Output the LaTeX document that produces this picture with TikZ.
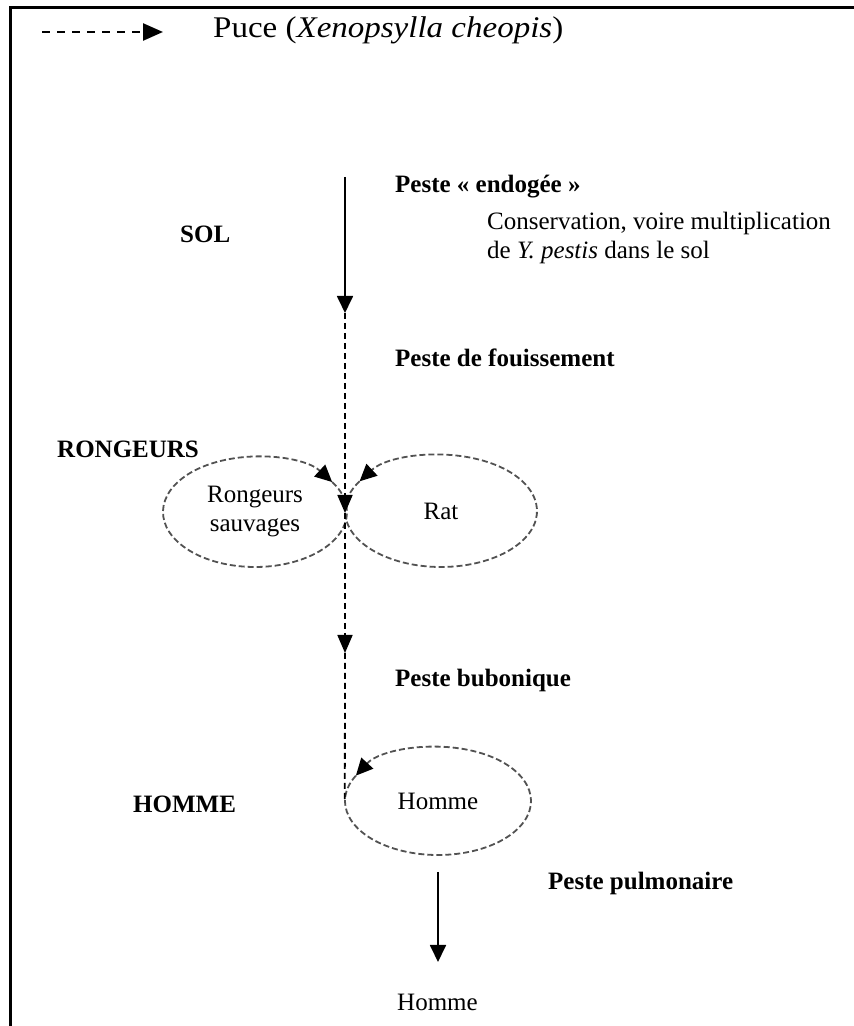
\documentclass[tikz,border=0pt]{standalone}
\usepackage{fontspec}
\setmainfont{Liberation Serif}
\newfontfamily\titlefont[FakeStretch=1.1]{Liberation Serif}
\usetikzlibrary{arrows.meta,shapes.geometric}
\tikzset{
  frameline/.style={line width=3pt},
  solidarrow/.style={line width=1.8pt, -{Triangle[length=17pt,width=16pt]}},
  dasharrow/.style={line width=1.8pt, dash pattern=on 6pt off 4pt, -{Triangle[length=18pt,width=15pt]}},
  dashline/.style={line width=1.8pt, dash pattern=on 6pt off 4pt},
  legendarrow/.style={line width=2.5pt, dash pattern=on 8pt off 7pt, -{Triangle[length=20pt,width=17pt]}},
  cyclearc/.style={line width=1.8pt, draw=black!68, dash pattern=on 6pt off 3pt, -{Triangle[length=17pt,width=16pt,color=black]}},
  host/.style={shape=ellipse, inner sep=0pt, font=\fontsize{25}{29}\selectfont, align=center},
  lab/.style={anchor=base west, inner sep=0pt, font=\fontsize{25}{29}\selectfont\bfseries},
  txt/.style={anchor=base west, inner sep=0pt, font=\fontsize{25}{29}\selectfont},
}
\begin{document}
\begin{tikzpicture}[x=1pt,y=1pt]
\useasboundingbox (0,0) rectangle (854,1026);
% frame
\draw[frameline] (10.5,0) -- (10.5,1018) -- (854,1018);
% legend
\coordinate (l0) at (42,994);
\coordinate (l1) at (163,994);
\draw[legendarrow] (l0) -- (l1);
\node[anchor=base west, inner sep=0pt, font=\titlefont\fontsize{30}{34}\selectfont] (title) at (213,988) {Puce (\textit{Xenopsylla cheopis})};
% labels
\node[lab] (sol) at (180,783) {SOL};
\node[lab] (endo) at (395,833) {Peste « endogée »};
\node[txt] (cons1) at (487,796) {Conservation, voire multiplication};
\node[txt] (cons2) at (487,767) {de \textit{Y. pestis} dans le sol};
\node[lab] (fouis) at (395,659) {Peste de fouissement};
\node[lab] (rong) at (57,568) {RONGEURS};
\node[lab] (bubo) at (395,339) {Peste bubonique};
\node[lab] (hom) at (133,213) {HOMME};
\node[lab] (pulmo) at (548,136) {Peste pulmonaire};
% host ellipses
\node[host, minimum width=184pt, minimum height=110pt] (rs) at (255,514) {Rongeurs\\sauvages};
\node[host, minimum width=192pt, minimum height=112pt] (rat) at (441,515) {Rat};
\node[host, minimum width=186pt, minimum height=108pt] (hm) at (438,225) {Homme};
\node[anchor=base west, inner sep=0pt, font=\fontsize{25}{29}\selectfont] (hb) at (397,16) {Homme};
% cycle arcs
\draw[cyclearc] (rs.center) ++(33:92pt and 55pt) arc[start angle=33, end angle=-327, x radius=92pt, y radius=55pt];
\draw[cyclearc] (rat.center) ++(148:96pt and 56pt) arc[start angle=148, end angle=508, x radius=96pt, y radius=56pt];
\draw[cyclearc] (hm.center) ++(152:93pt and 54pt) arc[start angle=152, end angle=512, x radius=93pt, y radius=54pt];
% main flow
\coordinate (p0) at (345,849);
\coordinate (p1) at (345,713);
\coordinate (p2) at (345,513);
\coordinate (p3) at (345,373);
\draw[solidarrow] (p0) -- (p1);
\draw[dasharrow] (p1) -- (p2);
\draw[dasharrow] (p2) -- (p3);
\draw[dashline] (p3) -- (hm.west);
\coordinate (q0) at (438,154);
\coordinate (q1) at (438,64);
\draw[solidarrow] (q0) -- (q1);
\end{tikzpicture}
\end{document}
